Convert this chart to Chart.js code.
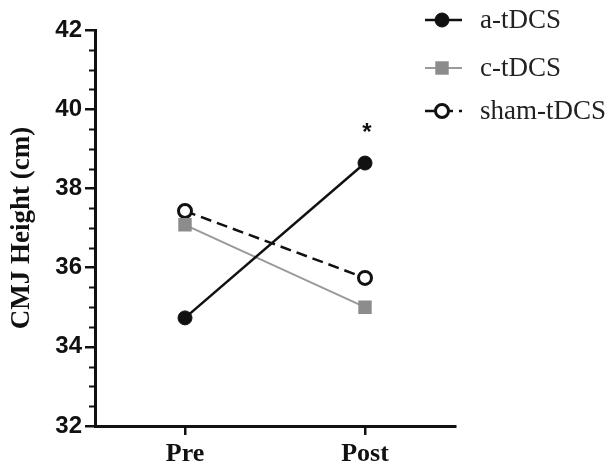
<!DOCTYPE html>
<html>
<head>
<meta charset="utf-8">
<script src="https://cdn.jsdelivr.net/npm/chart.js@4.4.1/dist/chart.umd.min.js"></script>
<style>
  html, body { margin: 0; padding: 0; background: #fff; }
  #wrap { width: 610px; height: 468px; }
</style>
</head>
<body>
<div id="wrap"><canvas id="cmj"></canvas></div>
<script>
// time points and group means (cm)
const phases = ['Pre', 'Post'];
const anodal = [34.73, 38.64];
const cathodal = [37.08, 35.0];
const sham = [37.43, 35.74];
const groupNames = ['a-tDCS', 'c-tDCS', 'sham-tDCS'];
const yTicks = [32, 34, 36, 38, 40, 42];
const sigMarks = ['', '*']; // significance markers above a-tDCS

// short minor ticks every 0.5 cm on the y axis
const minorTicks = {
  id: 'minorTicks',
  afterDraw(chart) {
    const { ctx, scales: { y } } = chart;
    ctx.save();
    ctx.strokeStyle = '#111';
    ctx.lineWidth = 2;
    for (let v = y.min; v <= y.max; v += 0.5) {
      if (v % 2 === 0) continue;
      const py = Math.round(y.getPixelForValue(v)) + 0.5;
      ctx.beginPath();
      ctx.moveTo(y.right - 6, py);
      ctx.lineTo(y.right, py);
      ctx.stroke();
    }
    ctx.restore();
  }
};

// asterisk above the a-tDCS point
const sigLabels = {
  id: 'sigLabels',
  afterDatasetsDraw(chart) {
    const { ctx, scales: { x, y } } = chart;
    ctx.save();
    ctx.fillStyle = '#111';
    ctx.font = 'bold 24px "Liberation Sans", Arial, sans-serif';
    ctx.textAlign = 'center';
    ctx.textBaseline = 'middle';
    sigMarks.forEach((m, i) => {
      if (!m) return;
      ctx.fillText(m, x.getPixelForValue(i) + 2, y.getPixelForValue(anodal[i]) - 30);
    });
    ctx.restore();
  }
};

// line + marker legend in the top right corner
const sideLegend = {
  id: 'sideLegend',
  afterDraw(chart) {
    const { ctx } = chart;
    const rows = [20, 68, 111];
    ctx.save();
    chart.data.datasets.forEach((ds, i) => {
      const cy = rows[i];
      const x0 = 425, x1 = 462, cx = 442;
      ctx.strokeStyle = ds.borderColor;
      ctx.lineWidth = ds.borderWidth;
      ctx.setLineDash(ds.borderDash || []);
      ctx.beginPath();
      ctx.moveTo(x0, cy);
      ctx.lineTo(x1, cy);
      ctx.stroke();
      ctx.setLineDash([]);
      ctx.fillStyle = ds.pointBackgroundColor;
      ctx.strokeStyle = ds.pointBorderColor;
      ctx.lineWidth = ds.pointBorderWidth;
      if (ds.pointStyle === 'rect') {
        const s = ds.pointRadius * Math.SQRT1_2;
        ctx.fillRect(cx - s, cy - s, 2 * s, 2 * s);
      } else {
        ctx.beginPath();
        ctx.arc(cx, cy, ds.pointRadius, 0, Math.PI * 2);
        ctx.fill();
        ctx.stroke();
      }
      ctx.fillStyle = '#222';
      ctx.font = '27px "Liberation Serif", "Times New Roman", serif';
      ctx.textAlign = 'left';
      ctx.textBaseline = 'middle';
      ctx.fillText(groupNames[i], 480, cy + 1);
    });
    ctx.restore();
  }
};

new Chart(document.getElementById('cmj'), {
  type: 'line',
  data: {
    labels: phases,
    datasets: [
      {
        label: groupNames[0],
        data: anodal,
        borderColor: '#111',
        borderWidth: 2.5,
        pointStyle: 'circle',
        pointRadius: 7,
        pointBackgroundColor: '#111',
        pointBorderColor: '#111',
        pointBorderWidth: 1
      },
      {
        label: groupNames[1],
        data: cathodal,
        borderColor: '#9a9a9a',
        borderWidth: 2,
        pointStyle: 'rect',
        pointRadius: 9.5,
        pointBackgroundColor: '#8c8c8c',
        pointBorderColor: '#8c8c8c',
        pointBorderWidth: 0
      },
      {
        label: groupNames[2],
        data: sham,
        borderColor: '#111',
        borderWidth: 2.5,
        borderDash: [11, 6],
        pointStyle: 'circle',
        pointRadius: 6.5,
        pointBackgroundColor: '#fff',
        pointBorderColor: '#111',
        pointBorderWidth: 3
      }
    ]
  },
  options: {
    responsive: true,
    maintainAspectRatio: false,
    animation: false,
    layout: { padding: { left: 0, top: 30, right: 155, bottom: 0 } },
    plugins: {
      legend: { display: false },
      tooltip: { enabled: false }
    },
    scales: {
      x: {
        type: 'category',
        offset: true,
        border: { display: true, color: '#111', width: 3 },
        grid: { drawOnChartArea: false, tickLength: 9, color: '#111', lineWidth: 2.5 },
        ticks: {
          color: '#111',
          padding: 4,
          font: { family: '"Liberation Serif", "Times New Roman", serif', size: 26, weight: 'bold' }
        },
        afterFit(scale) { scale.height = 42; }
      },
      y: {
        min: 32,
        max: 42,
        afterBuildTicks(scale) { scale.ticks = yTicks.map(v => ({ value: v })); },
        border: { display: true, color: '#111', width: 3 },
        grid: { drawOnChartArea: false, tickLength: 10, color: '#111', lineWidth: 2.5 },
        ticks: {
          color: '#111',
          padding: 3,
          font: { family: '"Liberation Sans", Arial, sans-serif', size: 24, weight: 'bold' }
        },
        title: {
          display: true,
          text: 'CMJ Height (cm)',
          color: '#111',
          padding: { top: 6, bottom: 0 },
          font: { family: '"Liberation Serif", "Times New Roman", serif', size: 27, weight: 'bold' }
        },
        afterFit(scale) { scale.width = 95; }
      }
    }
  },
  plugins: [minorTicks, sigLabels, sideLegend]
});
</script>
</body>
</html>
